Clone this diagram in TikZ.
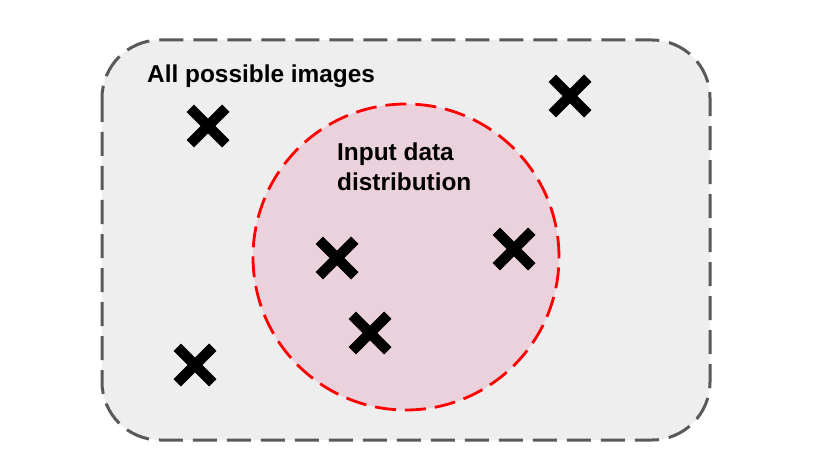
\documentclass[tikz,border=0pt]{standalone}
\usepackage{fontspec}
\setmainfont{Liberation Sans}
\usetikzlibrary{shapes.misc}
\definecolor{boxgray}{HTML}{EEEEEE}
\definecolor{bordergray}{HTML}{595959}
\definecolor{distpink}{HTML}{EAD1DC}
\tikzset{
  mark x/.style={cross out, draw=black, line width=10.5pt, minimum size=25pt, inner sep=0pt},
  label text/.style={font=\fontsize{24.4}{30}\selectfont\bfseries, inner sep=0pt, anchor=base west, align=left}
}
\begin{document}
\begin{tikzpicture}[x=1pt,y=-1pt]
  \useasboundingbox (0,0) rectangle (817,468);
  \draw [bordergray, fill=boxgray, line width=3pt, dash pattern=on 24pt off 10pt, rounded corners=58pt]
    (102,40) rectangle (710,440);
  \draw [red, fill=distpink, line width=2.8pt, dash pattern=on 21pt off 9pt]
    (406,257) circle [radius=153pt];
  \node [label text] (all) at (147,83) {All possible images};
  \node [label text] (input) at (337,190) {Input data\\distribution};
  \node [mark x] (x1) at (208,126) {};
  \node [mark x] (x2) at (570,96) {};
  \node [mark x] (x3) at (337,258) {};
  \node [mark x] (x4) at (514,249) {};
  \node [mark x] (x5) at (370,333) {};
  \node [mark x] (x6) at (195,365) {};
\end{tikzpicture}
\end{document}
